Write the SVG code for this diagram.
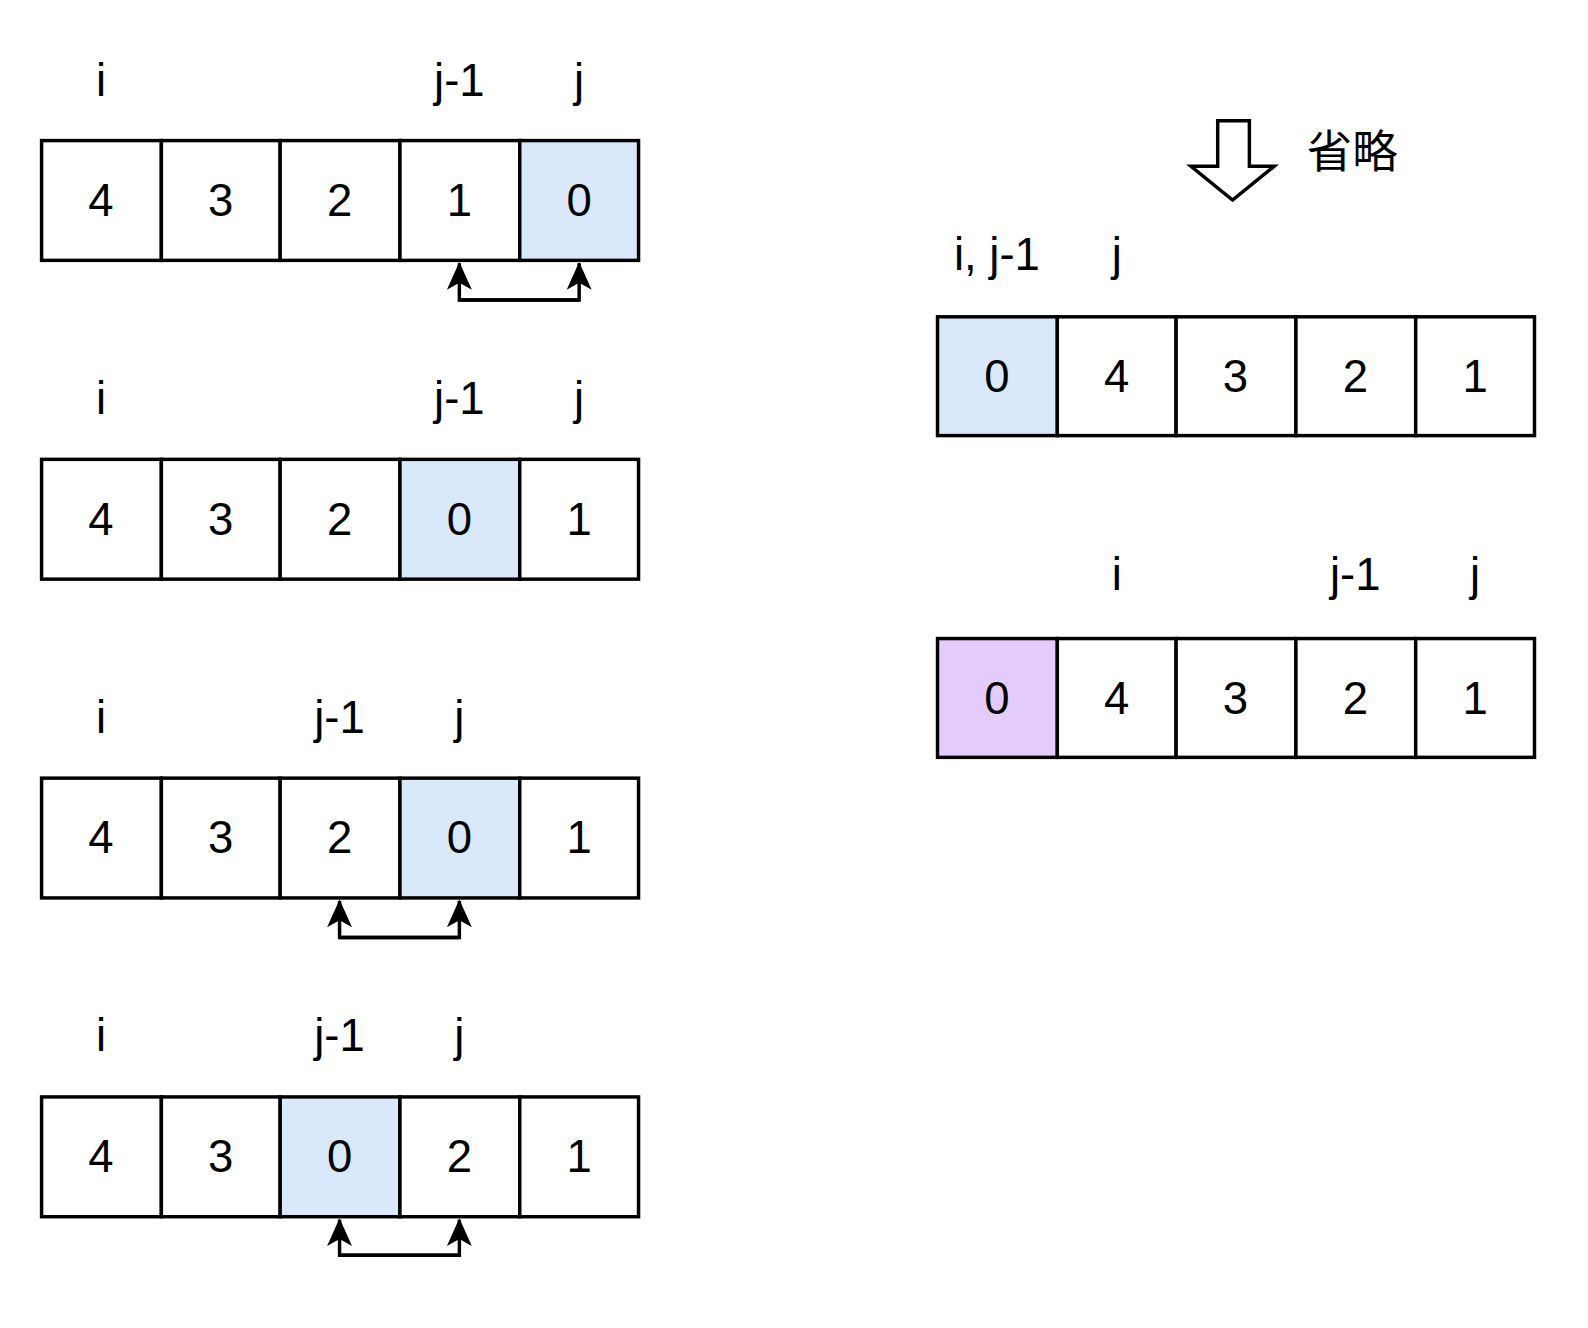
<svg xmlns="http://www.w3.org/2000/svg" width="1588" height="1328" viewBox="0 0 1588 1328">
<style>
.c{stroke:#000;stroke-width:3.5;fill:#fff}
.b{fill:#dae8fc}.p{fill:#e5ccff}
text{font-family:"Liberation Sans",Arial,sans-serif;font-size:46px;text-anchor:middle;fill:#000}
</style>
<defs>
<marker id="m" viewBox="0 0 20 20" refX="19" refY="10" markerWidth="28" markerHeight="28" markerUnits="userSpaceOnUse" orient="auto"><path d="M0,1 L20,10 L0,19 L5,10 Z" fill="#000"/></marker></defs>
<g transform="scale(0.99)">
<g id="row1">
<text x="102" y="97">i</text><text x="464" y="97">j-1</text><text x="585" y="97">j</text>
<rect class="c" x="42" y="142" width="121" height="121"/><rect class="c" x="163" y="142" width="120" height="121"/><rect class="c" x="283" y="142" width="121" height="121"/><rect class="c" x="404" y="142" width="121" height="121"/><rect class="c b" x="525" y="142" width="120" height="121"/>
<text x="102" y="218">4</text><text x="223" y="218">3</text><text x="343" y="218">2</text><text x="464" y="218">1</text><text x="585" y="218">0</text>
</g>
<g id="row2">
<text x="102" y="418">i</text><text x="464" y="418">j-1</text><text x="585" y="418">j</text>
<rect class="c" x="42" y="464" width="121" height="121"/><rect class="c" x="163" y="464" width="120" height="121"/><rect class="c" x="283" y="464" width="121" height="121"/><rect class="c b" x="404" y="464" width="121" height="121"/><rect class="c" x="525" y="464" width="120" height="121"/>
<text x="102" y="540">4</text><text x="223" y="540">3</text><text x="343" y="540">2</text><text x="464" y="540">0</text><text x="585" y="540">1</text>
</g>
<g id="row3">
<text x="102" y="740">i</text><text x="343" y="740">j-1</text><text x="464" y="740">j</text>
<rect class="c" x="42" y="786" width="121" height="121"/><rect class="c" x="163" y="786" width="120" height="121"/><rect class="c" x="283" y="786" width="121" height="121"/><rect class="c b" x="404" y="786" width="121" height="121"/><rect class="c" x="525" y="786" width="120" height="121"/>
<text x="102" y="862">4</text><text x="223" y="862">3</text><text x="343" y="862">2</text><text x="464" y="862">0</text><text x="585" y="862">1</text>
</g>
<g id="row4">
<text x="102" y="1062">i</text><text x="343" y="1062">j-1</text><text x="464" y="1062">j</text>
<rect class="c" x="42" y="1108" width="121" height="121"/><rect class="c" x="163" y="1108" width="120" height="121"/><rect class="c b" x="283" y="1108" width="121" height="121"/><rect class="c" x="404" y="1108" width="121" height="121"/><rect class="c" x="525" y="1108" width="120" height="121"/>
<text x="102" y="1184">4</text><text x="223" y="1184">3</text><text x="343" y="1184">0</text><text x="464" y="1184">2</text><text x="585" y="1184">1</text>
</g>
<g id="row5">
<text x="1007" y="273">i, j-1</text><text x="1128" y="273">j</text>
<rect class="c b" x="947" y="320" width="121" height="120"/><rect class="c" x="1068" y="320" width="120" height="120"/><rect class="c" x="1188" y="320" width="121" height="120"/><rect class="c" x="1309" y="320" width="121" height="120"/><rect class="c" x="1430" y="320" width="120" height="120"/>
<text x="1007" y="396">0</text><text x="1128" y="396">4</text><text x="1248" y="396">3</text><text x="1369" y="396">2</text><text x="1490" y="396">1</text>
</g>
<g id="row6">
<text x="1128" y="596">i</text><text x="1369" y="596">j-1</text><text x="1490" y="596">j</text>
<rect class="c p" x="947" y="645" width="121" height="120"/><rect class="c" x="1068" y="645" width="120" height="120"/><rect class="c" x="1188" y="645" width="121" height="120"/><rect class="c" x="1309" y="645" width="121" height="120"/><rect class="c" x="1430" y="645" width="120" height="120"/>
<text x="1007" y="721">0</text><text x="1128" y="721">4</text><text x="1248" y="721">3</text><text x="1369" y="721">2</text><text x="1490" y="721">1</text>
</g>
<g id="skip">
<path d="M1230,122 H1262 V168 H1287 L1245,202 L1203,168 H1230 Z" fill="#fff" stroke="#000" stroke-width="3.5"/>
<text x="1366" y="170" style="font-family:'Noto Sans CJK SC',sans-serif;font-size:46px">省略</text>
</g>
<g id="connectors" fill="none" stroke="#000" stroke-width="3.5">
<path d="M585,303 H464 V266" marker-end="url(#m)"/><path d="M464,303 H585 V266" marker-end="url(#m)"/>
<path d="M464,947 H343 V910" marker-end="url(#m)"/><path d="M343,947 H464 V910" marker-end="url(#m)"/>
<path d="M464,1268 H343 V1232" marker-end="url(#m)"/><path d="M343,1268 H464 V1232" marker-end="url(#m)"/>
</g>
</g>
</svg>
